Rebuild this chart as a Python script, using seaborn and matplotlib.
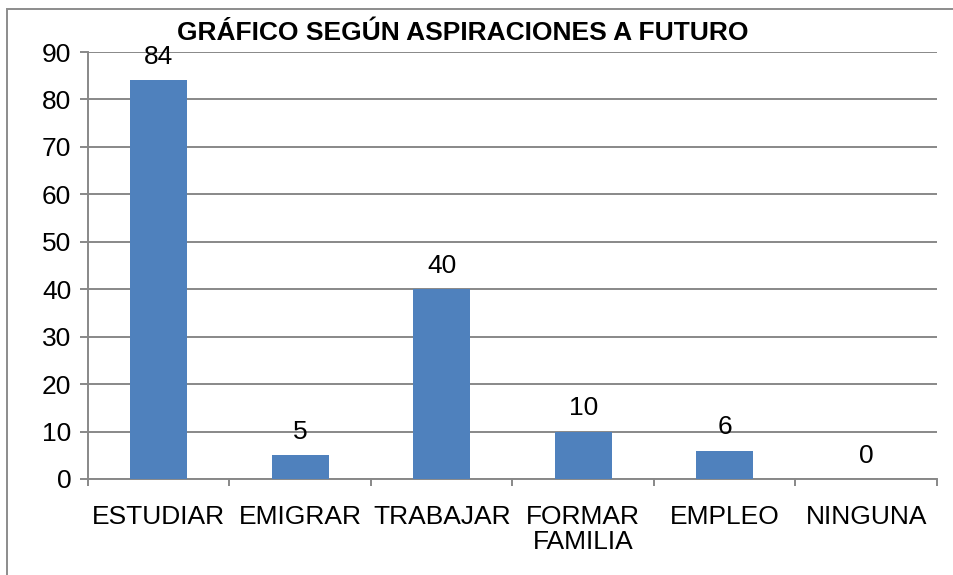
import matplotlib
matplotlib.use("Agg")
import matplotlib.pyplot as plt
import seaborn as sns
import pandas as pd
from matplotlib.patches import Rectangle
from matplotlib.ticker import FixedLocator

# datos del grafico
categorias = ["ESTUDIAR", "EMIGRAR", "TRABAJAR", "FORMAR\nFAMILIA", "EMPLEO", "NINGUNA"]
valores = [84, 5, 40, 10, 6, 0]
titulo = "GRÁFICO SEGÚN ASPIRACIONES A FUTURO"

sns.set_style("white")
plt.rcParams['font.family'] = ['Liberation Sans', 'DejaVu Sans']
plt.rcParams['text.color'] = 'black'
plt.rcParams['xtick.labelcolor'] = 'black'
plt.rcParams['ytick.labelcolor'] = 'black'

df = pd.DataFrame({"cat": categorias, "val": valores})

fig = plt.figure(figsize=(9.54, 5.75), dpi=100)
ax = fig.add_axes([88/954, 1 - 479/575, (937 - 88)/954, (479 - 52)/575])

sns.barplot(data=df, x="cat", y="val", color="#4F81BD", width=0.4,
            saturation=1, linewidth=0, ax=ax, zorder=3)

gris = "#888888"
ax.set_ylim(0, 90)
ax.set_xlim(-0.5, len(categorias) - 0.5)
ax.set_yticks(range(0, 91, 10))
ax.yaxis.grid(True, color=gris, linewidth=1.4, zorder=0)
ax.set_axisbelow(True)

for s in ["top", "right"]:
    ax.spines[s].set_visible(False)
for s in ["left", "bottom"]:
    ax.spines[s].set_color(gris)
    ax.spines[s].set_linewidth(1.4)

ax.tick_params(axis="y", direction="out", length=6, width=1.4, color=gris,
               labelsize=19, pad=6, left=True)
ax.tick_params(axis="x", which="major", length=0, labelsize=19, pad=19)
ax.xaxis.set_minor_locator(FixedLocator([i - 0.5 for i in range(len(categorias) + 1)]))
ax.tick_params(axis="x", which="minor", direction="out", length=5, width=1.4,
               color=gris, bottom=True)
for lab in ax.get_xticklabels():
    lab.set_linespacing(1.05)

ax.set_xlabel("")
ax.set_ylabel("")

ax.bar_label(ax.containers[0], labels=[str(v) for v in valores],
             fontsize=19, padding=8)

fig.text(463/954, 1 - 33/575, titulo, ha="center", va="center",
         fontsize=19, fontweight="bold")

# marco del grafico
fig.patches.append(Rectangle((7/954, -0.1), 1.2, 1.1 - 9/575, transform=fig.transFigure,
                             fill=False, edgecolor="#8c8c8c", linewidth=1.4))

fig.savefig("out.png", dpi=100)
